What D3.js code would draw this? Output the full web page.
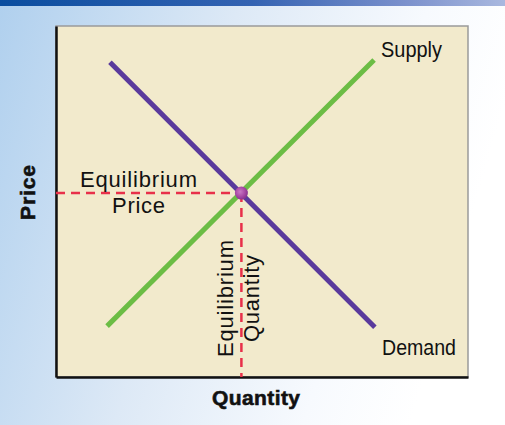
<!DOCTYPE html>
<html>
<head>
<meta charset="utf-8">
<script src="https://cdn.jsdelivr.net/npm/d3@7"></script>
<style>
  html, body { margin: 0; padding: 0; background: #ffffff; }
  svg { display: block; }
</style>
</head>
<body>
<svg id="chart" width="505" height="425"></svg>
<script>
// ---- data (abstract units) ----
const supplyQuantity = [1.24, 7.72];
const supplyPrice    = [1.45, 9.03];
const demandQuantity = [1.31, 7.74];
const demandPrice    = [8.97, 1.42];
const equilibriumQuantity = 4.50;
const equilibriumPrice    = 5.24;
const curveLabels = ["Supply", "Demand"];
const axisTitles = ["Quantity", "Price"];
const equilibriumLabels = ["Equilibrium", "Price", "Quantity"];

const W = 505, H = 425;
const plot = { left: 56, right: 468, top: 26, bottom: 377 };

const svg = d3.select("#chart");
const defs = svg.append("defs");

const bg = defs.append("linearGradient").attr("id", "bg")
  .attr("x1", "0").attr("y1", "0").attr("x2", "1").attr("y2", "0.25");
bg.append("stop").attr("offset", "0").attr("stop-color", "#b0d0ee");
bg.append("stop").attr("offset", "0.45").attr("stop-color", "#dde9f6");
bg.append("stop").attr("offset", "0.8").attr("stop-color", "#f7fafe");
bg.append("stop").attr("offset", "1").attr("stop-color", "#ffffff");

const bar = defs.append("linearGradient").attr("id", "bar")
  .attr("x1", "0").attr("y1", "0").attr("x2", "1").attr("y2", "0");
bar.append("stop").attr("offset", "0").attr("stop-color", "#0a4d9f");
bar.append("stop").attr("offset", "0.5").attr("stop-color", "#3463b2");
bar.append("stop").attr("offset", "0.8").attr("stop-color", "#7a90cc");
bar.append("stop").attr("offset", "1").attr("stop-color", "#a9b8df");

const dotG = defs.append("radialGradient").attr("id", "dot")
  .attr("cx", "0.4").attr("cy", "0.4").attr("r", "0.6");
dotG.append("stop").attr("offset", "0").attr("stop-color", "#c978c4");
dotG.append("stop").attr("offset", "0.6").attr("stop-color", "#a94aa6");
dotG.append("stop").attr("offset", "1").attr("stop-color", "#8a3290");

svg.append("rect").attr("width", W).attr("height", H).attr("fill", "url(#bg)");
svg.append("rect").attr("width", W).attr("height", 6).attr("fill", "url(#bar)");

const x = d3.scaleLinear().domain([0, 10]).range([plot.left, plot.right]);
const y = d3.scaleLinear().domain([0, 10]).range([plot.bottom, plot.top]);

// plot area
svg.append("rect")
  .attr("x", x(0)).attr("y", y(10))
  .attr("width", x(10) - x(0)).attr("height", y(0) - y(10))
  .attr("fill", "#f2eacc").attr("stroke", "#9a9a9a").attr("stroke-width", 1.5);

// axes (black left & bottom)
const xAxis = svg.append("g").attr("transform", `translate(0,${y(0)})`)
  .call(d3.axisBottom(x).ticks(0).tickSize(0));
const yAxis = svg.append("g").attr("transform", `translate(${x(0)},0)`)
  .call(d3.axisLeft(y).ticks(0).tickSize(0));
[xAxis, yAxis].forEach(a => a.select(".domain").attr("stroke", "#111").attr("stroke-width", 2.5));

// dashed equilibrium guides
const red = "#e8304a";
svg.append("line")
  .attr("x1", x(0)).attr("y1", y(equilibriumPrice))
  .attr("x2", x(equilibriumQuantity)).attr("y2", y(equilibriumPrice))
  .attr("stroke", red).attr("stroke-width", 2.5).attr("stroke-dasharray", "9,6");
svg.append("line")
  .attr("x1", x(equilibriumQuantity)).attr("y1", y(equilibriumPrice))
  .attr("x2", x(equilibriumQuantity)).attr("y2", y(0))
  .attr("stroke", red).attr("stroke-width", 2.5).attr("stroke-dasharray", "9,6");

const line = d3.line().x(d => x(d[0])).y(d => y(d[1]));
const supply = supplyQuantity.map((q, i) => [q, supplyPrice[i]]);
const demand = demandQuantity.map((q, i) => [q, demandPrice[i]]);

svg.append("path").datum(supply).attr("d", line)
  .attr("fill", "none").attr("stroke", "#6cbd45").attr("stroke-width", 5);
svg.append("path").datum(demand).attr("d", line)
  .attr("fill", "none").attr("stroke", "#5a3a9c").attr("stroke-width", 5);

svg.append("circle")
  .attr("cx", x(equilibriumQuantity)).attr("cy", y(equilibriumPrice))
  .attr("r", 6.5).attr("fill", "url(#dot)");

// labels
const labelFont = "'Liberation Sans', Arial, sans-serif";
function label(text, tx, ty, len, opts = {}) {
  const t = svg.append("text")
    .attr("x", tx).attr("y", ty)
    .attr("font-family", opts.font || labelFont)
    .attr("font-size", opts.size || 22)
    .attr("font-weight", opts.weight || "normal")
    .attr("text-anchor", opts.anchor || "start")
    .attr("fill", "#111")
    .attr("textLength", len).attr("lengthAdjust", opts.adjust || "spacing")
    .text(text);
  if (opts.stroke) t.attr("stroke", "#111").attr("stroke-width", opts.stroke);
  if (opts.rotate) t.attr("transform", `rotate(-90,${tx},${ty})`);
  return t;
}
label(curveLabels[0], 381, 57, 61, { adjust: "spacingAndGlyphs" });
label(curveLabels[1], 382, 355, 74, { adjust: "spacingAndGlyphs" });
label(equilibriumLabels[0], 138.5, 187, 117, { anchor: "middle" });
label(equilibriumLabels[1], 138.5, 213, 53, { anchor: "middle" });
label(equilibriumLabels[0], 233, 298.5, 117, { anchor: "middle", rotate: true });
label(equilibriumLabels[2], 259, 298.5, 87, { anchor: "middle", rotate: true });

label(axisTitles[0], 256, 405, 88, { anchor: "middle", weight: "bold", size: 21, stroke: 0.6 });
label(axisTitles[1], 35, 192.5, 55, { anchor: "middle", weight: "bold", size: 21, stroke: 0.6, rotate: true });
</script>
</body>
</html>
